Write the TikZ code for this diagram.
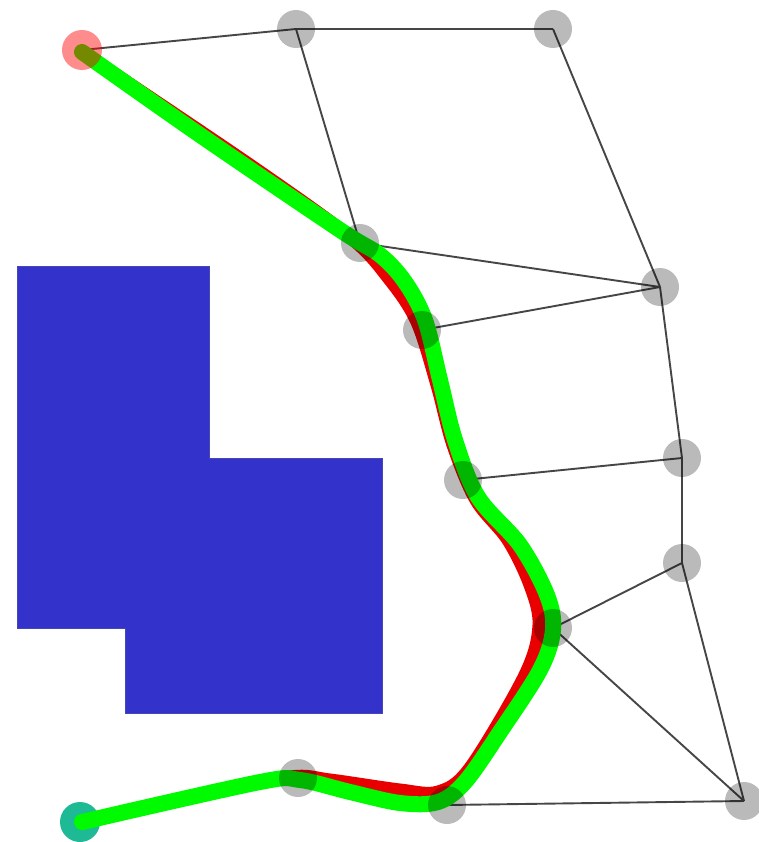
\documentclass[tikz,border=0pt]{standalone}
\usetikzlibrary{calc}
\definecolor{obst}{RGB}{51,51,204}
\definecolor{obstedge}{RGB}{70,70,180}
\definecolor{pathred}{RGB}{232,0,0}
\definecolor{pathgreen}{RGB}{0,250,0}
\definecolor{goalteal}{RGB}{30,186,150}
\definecolor{edgegray}{RGB}{70,70,70}
\tikzset{
  wp/.style={circle, inner sep=0pt, minimum size=38pt, fill=black, fill opacity=0.27},
  startpt/.style={circle, inner sep=0pt, minimum size=40pt, fill=red, fill opacity=0.45},
  goalpt/.style={circle, inner sep=0pt, minimum size=40pt, fill=goalteal},
  edge/.style={draw=edgegray, line width=1.9pt},
  redpath/.style={draw=pathred, line width=13pt, line cap=round, line join=round},
  greenpath/.style={draw=pathgreen, line width=16pt, line cap=round, line join=round}
}
\begin{document}
\begin{tikzpicture}[x=1pt,y=-1pt]
\useasboundingbox (0,0) rectangle (758,842);
% obstacle
\fill[obst, draw=obstedge, line width=1pt] (17,266) -- (209,266) -- (209,458) -- (382,458) -- (382,713) -- (125,713) -- (125,628) -- (17,628) -- cycle;
% node positions
\coordinate (s) at (82,50);
\coordinate (a) at (296,29);
\coordinate (b) at (553,29);
\coordinate (c) at (360,243);
\coordinate (d) at (660,287);
\coordinate (e) at (422,330);
\coordinate (f) at (463,480);
\coordinate (g) at (682,458);
\coordinate (h) at (682,563);
\coordinate (i) at (553,628);
\coordinate (j) at (298,778);
\coordinate (k) at (447,805);
\coordinate (l) at (744,801);
\coordinate (t) at (80,822);
% goal marker under paths
\node[goalpt] (goal) at (t) {};
% edges
\draw[edge] (s) -- (a);
\draw[edge] (a) -- (b);
\draw[edge] (a) -- (c);
\draw[edge] (b) -- (d);
\draw[edge] (c) -- (d);
\draw[edge] (e) -- (d);
\draw[edge] (d) -- (g);
\draw[edge] (f) -- (g);
\draw[edge] (g) -- (h);
\draw[edge] (h) -- (i);
\draw[edge] (h) -- (l);
\draw[edge] (i) -- (l);
\draw[edge] (k) -- (l);
% red path
\draw[redpath] plot[smooth, tension=0.55] coordinates {(82,52) (250,165) (350,237) (390,280) (417,322) (437,385) (453,445) (476,500) (508,540) (530,585) (539,625) (525,675) (470,768) (438,792) (400,790) (330,780) (290,777) (200,795) (82,822)};
% green path
\draw[greenpath] plot[smooth, tension=0.55] coordinates {(82,52) (200,135) (340,230) (380,255) (405,282) (425,320) (440,380) (455,440) (478,497) (520,545) (547,595) (553,630) (540,670) (500,732) (465,782) (438,802) (400,803) (350,792) (300,780) (260,782) (82,822)};
% waypoint markers on top
\node[startpt] (start) at (s) {};
\foreach \p in {a,b,c,d,e,f,g,h,i,j,k,l}{
  \node[wp] (n\p) at (\p) {};
}
\end{tikzpicture}
\end{document}
